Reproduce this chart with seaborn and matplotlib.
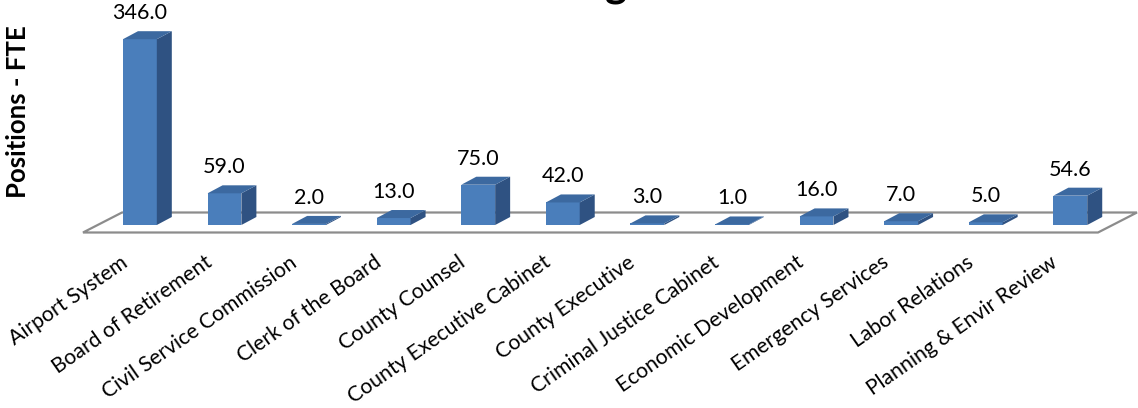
import matplotlib
matplotlib.use("Agg")
import matplotlib.pyplot as plt
import matplotlib.transforms as mtransforms
from matplotlib.patches import Polygon
import seaborn as sns
import pandas as pd

# Positions (FTE) by department
categories = [
    "Airport System", "Board of Retirement", "Civil Service Commission",
    "Clerk of the Board", "County Counsel", "County Executive Cabinet",
    "County Executive", "Criminal Justice Cabinet", "Economic Development",
    "Emergency Services", "Labor Relations", "Planning & Envir Review",
]
values = [346.0, 59.0, 2.0, 13.0, 75.0, 42.0, 3.0, 1.0, 16.0, 7.0, 5.0, 54.6]
y_label = "Positions - FTE"
title = "Staffing"

FRONT = "#4A7EBB"
TOP = "#3C69A0"
SIDE = "#2F5282"
FLOOR = "#8C8C8C"

sns.set_theme(style="white")
plt.rcParams["font.family"] = ["Lato", "DejaVu Sans"]

W, H = 1138, 408
fig = plt.figure(figsize=(W / 100, H / 100), dpi=100)

# axes: bar plane, zero line at 225 px from the top
ax = fig.add_axes([97.6 / W, (H - 225) / H, 1015 / W, 205 / H])

df = pd.DataFrame({"dept": categories, "fte": values})
sns.barplot(data=df, x="dept", y="fte", width=0.4, color=FRONT,
            saturation=1, edgecolor="none", ax=ax, zorder=3)
ax.set_xlim(-0.5, len(categories) - 0.5)
ax.set_ylim(0, 205 / 0.537)

for s in ax.spines.values():
    s.set_visible(False)
ax.set_yticks([])
ax.set_xlabel("")
ax.set_ylabel("")

# pixel -> data scale
p0 = ax.transData.transform((0, 0))
p1 = ax.transData.transform((1, 1))
px_x = p1[0] - p0[0]
px_y = p1[1] - p0[1]

# bar depth (px): 15 right, 8 up
ddx, ddy = 15 / px_x, 8 / px_y

# floor parallelogram: front edge 7.5 px below bar plane, back edge 12.5 px above
n = len(categories)
fx0 = -0.5 - 14.6 / px_x
fx1 = n - 0.5 - 14.6 / px_x
fy_front = -7.5 / px_y
shift_x, shift_y = 39 / px_x, 20 / px_y
floor = Polygon([(fx0, fy_front), (fx1, fy_front),
                 (fx1 + shift_x, fy_front + shift_y),
                 (fx0 + shift_x, fy_front + shift_y)],
                closed=True, facecolor="white", edgecolor=FLOOR,
                linewidth=1.6, clip_on=False, zorder=1)
ax.add_patch(floor)

for patch, v in zip(ax.patches[:n], values):
    x0 = patch.get_x()
    x1 = x0 + patch.get_width()
    h = patch.get_height()
    side = Polygon([(x1, 0), (x1 + ddx, ddy), (x1 + ddx, h + ddy), (x1, h)],
                   closed=True, facecolor=SIDE, edgecolor="none",
                   clip_on=False, zorder=3)
    top = Polygon([(x0, h), (x1, h), (x1 + ddx, h + ddy), (x0 + ddx, h + ddy)],
                  closed=True, facecolor=TOP, edgecolor="none",
                  clip_on=False, zorder=3)
    ax.add_patch(side)
    ax.add_patch(top)
    ax.annotate(f"{v:.1f}", xy=(x0 + patch.get_width() / 2, h),
                xytext=(0, 26 * 0.72), textcoords="offset points",
                ha="center", va="center", fontsize=15.5, color="black",
                annotation_clip=False)

# category labels on the floor's front edge
ax.set_xticks(range(n))
ax.set_xticklabels(categories, rotation=35, ha="right", va="center",
                   rotation_mode="anchor", fontsize=15.2, color="black")
ax.tick_params(axis="x", length=0, pad=35.5 * 0.72)
offset = mtransforms.ScaledTranslation(-14.6 / 100, 0, fig.dpi_scale_trans)
for lbl in ax.get_xticklabels():
    lbl.set_transform(lbl.get_transform() + offset)

fig.text(18 / W, 1 - 112 / H, y_label, rotation=90, ha="center",
         va="center", fontsize=18.5, fontweight="bold", color="black")

fig.text(627 / W, 1 + 4 / H, title, ha="right", va="baseline",
         fontsize=30, fontweight="bold", color="black")

fig.savefig("out.png", dpi=100, facecolor="white")
